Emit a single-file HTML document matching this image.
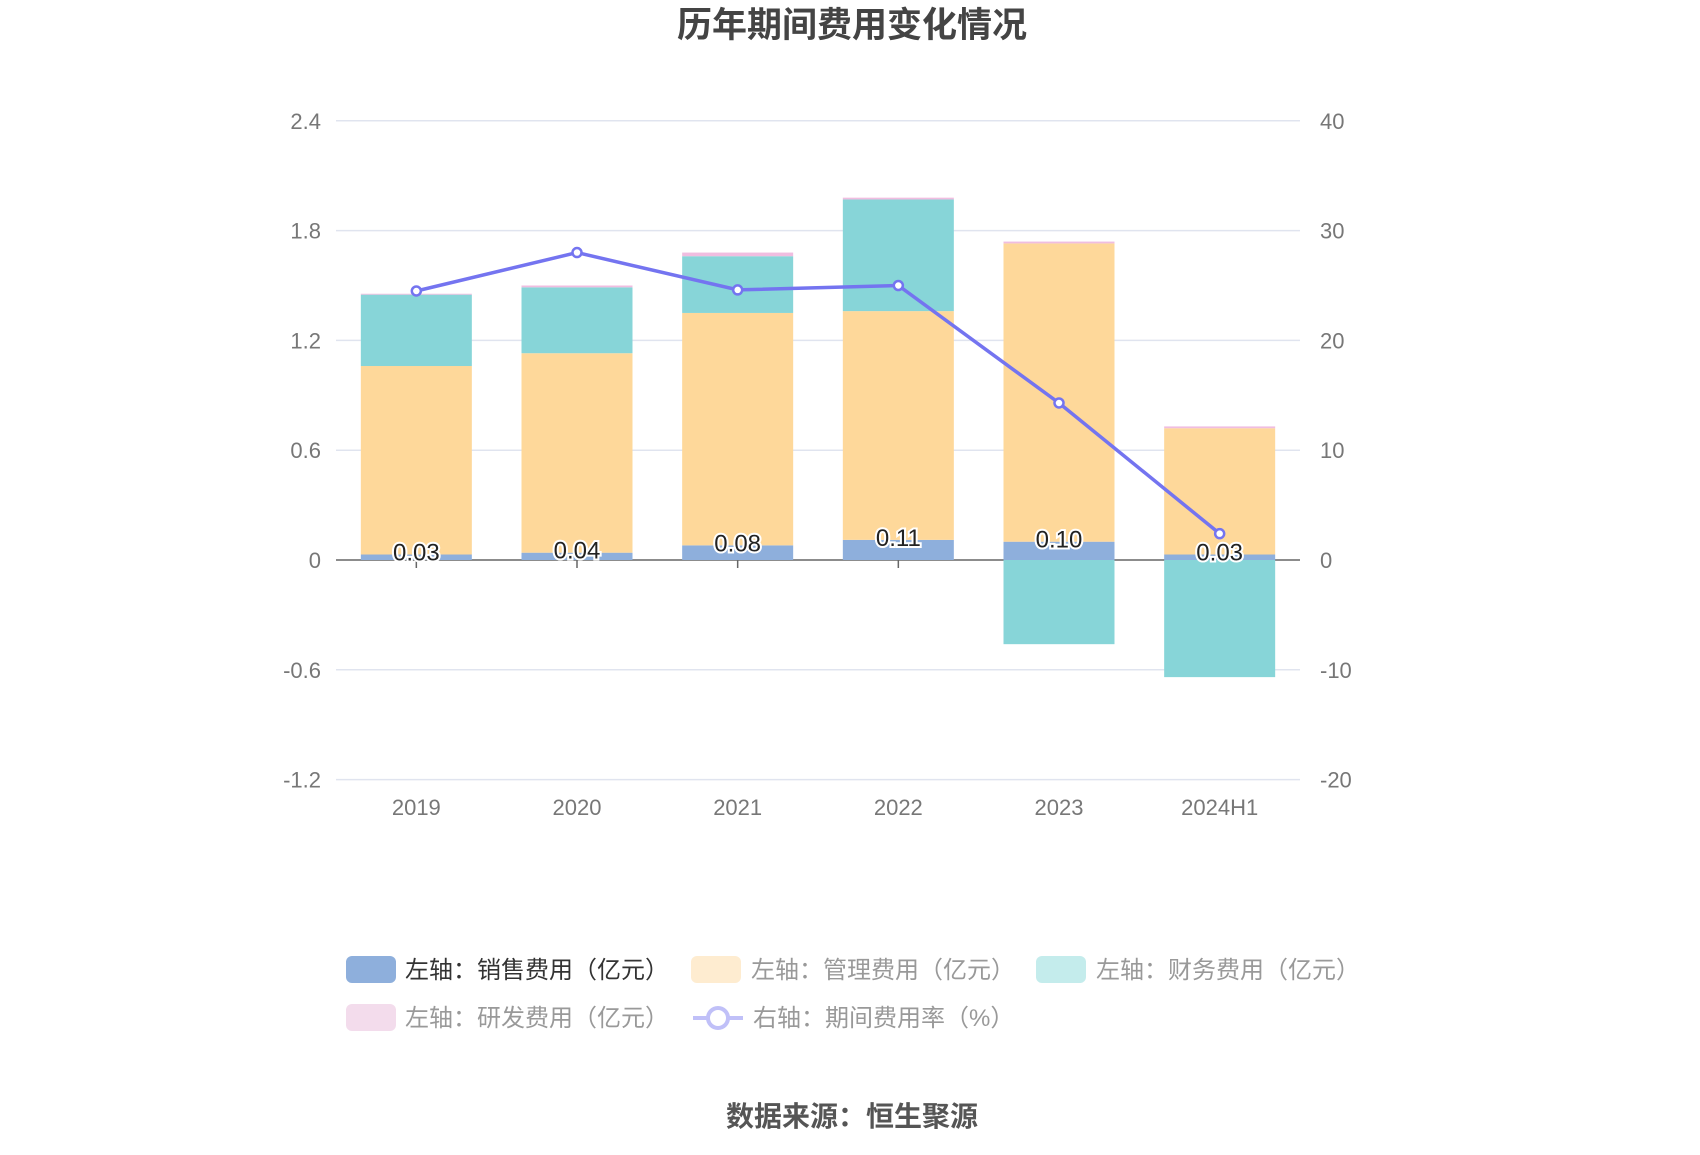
<!DOCTYPE html>
<html><head><meta charset="utf-8">
<style>
html,body{margin:0;padding:0;background:#fff;}
body{width:1700px;height:1150px;overflow:hidden;font-family:"Liberation Sans","Noto Sans CJK SC",sans-serif;}
svg text{font-family:"Liberation Sans","Noto Sans CJK SC",sans-serif;}
</style></head>
<body>
<svg id="chart" width="1700" height="1150">
<text x="852" y="37" text-anchor="middle" font-size="35" font-weight="bold" fill="#444">历年期间费用变化情况</text>
<g id="grid"></g><g id="bars"></g><g id="line"></g><g id="labels"></g>
<g id="legend" font-size="24">
 <g><rect x="346" y="956" width="50" height="27" rx="6" fill="#8eafdc"/><text x="405" y="978" fill="#333">左轴：销售费用（亿元）</text></g>
 <g><rect x="691" y="956" width="50" height="27" rx="6" fill="#feecd0"/><text x="751" y="978" fill="#999">左轴：管理费用（亿元）</text></g>
 <g><rect x="1036" y="956" width="50" height="27" rx="6" fill="#c4ecec"/><text x="1096" y="978" fill="#999">左轴：财务费用（亿元）</text></g>
 <g><rect x="346" y="1004" width="50" height="27" rx="6" fill="#f3dcec"/><text x="405" y="1026" fill="#999">左轴：研发费用（亿元）</text></g>
 <g><line x1="693" y1="1018" x2="743" y2="1018" stroke="#c0c0f8" stroke-width="4"/><circle cx="718" cy="1018" r="10" fill="#fff" stroke="#c0c0f8" stroke-width="4"/><text x="753" y="1026" fill="#999">右轴：期间费用率（%）</text></g>
</g>
<text x="852" y="1126" text-anchor="middle" font-size="28" font-weight="bold" fill="#555">数据来源：恒生聚源</text>
</svg>
<script>
const categories=["2019","2020","2021","2022","2023","2024H1"];
const sales=[0.03,0.04,0.08,0.11,0.10,0.03];
const admin=[1.03,1.09,1.27,1.25,1.63,0.69];
const finance=[0.39,0.36,0.31,0.61,-0.46,-0.64];
const rnd=[0.005,0.01,0.02,0.01,0.01,0.01];
const rate=[24.5,28.0,24.6,25.0,14.3,2.4];
const leftTicks=[2.4,1.8,1.2,0.6,0,-0.6,-1.2];
const rightTicks=[40,30,20,10,0,-10,-20];
const salesLabels=["0.03","0.04","0.08","0.11","0.10","0.03"];
const NS="http://www.w3.org/2000/svg";
const X0=336,X1=1300,Y0=560,STEP=109.8;
function yL(v){return Y0-v*(STEP/0.6);}
function yRate(v){return Y0-v*(STEP/10);}
const band=(X1-X0)/categories.length;
function xC(i){return X0+band*(i+0.5);}
function mk(tag,attrs,parent){const e=document.createElementNS(NS,tag);for(const k in attrs)e.setAttribute(k,attrs[k]);parent.appendChild(e);return e;}
const grid=document.getElementById('grid');
leftTicks.forEach((t,i)=>{
 const y=yL(t);
 const l=mk('line',{x1:X0,x2:X1,y1:y,y2:y,stroke:t===0?'#666':'#e0e4ef','stroke-width':1.5},grid);
 
 
 const a=mk('text',{x:321,y:y+8,'text-anchor':'end','font-size':22,fill:'#777'},grid);a.textContent=String(t);
 
 
 const b=mk('text',{x:1320,y:yRate(rightTicks[i])+8,'font-size':22,fill:'#777'},grid);b.textContent=String(rightTicks[i]);
 
 
});
categories.forEach((c,i)=>{
 const t=mk('text',{x:xC(i),y:815,'text-anchor':'middle','font-size':22,fill:'#777'},grid);t.textContent=c;
 
 
 const tk=mk('line',{x1:xC(i),x2:xC(i),y1:Y0,y2:Y0+8,stroke:'#666','stroke-width':1.5},grid);
 
 
});
const bars=document.getElementById('bars');const BW=111;
function seg(i,from,to,color,name){
 const y1=yL(Math.max(from,to)),y2=yL(Math.min(from,to));
 const r=mk('rect',{x:xC(i)-BW/2,y:y1,width:BW,height:Math.max(0,y2-y1),fill:color},bars);
 
 
}
categories.forEach((c,i)=>{
 let pos=0,neg=0;
 const series=[[sales,'#8eafdc','bar-sales'],[admin,'#fed89a','bar-admin'],[finance,'#87d5d8','bar-finance'],[rnd,'#f0bde0','bar-rnd']];
 series.forEach(([arr,col,nm])=>{
  const v=arr[i];
  if(v>=0){seg(i,pos,pos+v,col,nm);pos+=v;}else{seg(i,neg,neg+v,col,nm);neg+=v;}
 });
});
const line=document.getElementById('line');
const pts=rate.map((v,i)=>xC(i)+','+yRate(v)).join(' ');
const pl=mk('polyline',{points:pts,fill:'none',stroke:'#7474f0','stroke-width':3.5},line);


rate.forEach((v,i)=>{
 const c=mk('circle',{cx:xC(i),cy:yRate(v),r:4.5,fill:'#fff',stroke:'#7474f0','stroke-width':2.5},line);
 
 
});
const labels=document.getElementById('labels');
categories.forEach((c,i)=>{
 const t=mk('text',{x:xC(i),y:yL(sales[i])+6,'text-anchor':'middle','font-size':24,fill:'#222',stroke:'#fff','stroke-width':4,'paint-order':'stroke'},labels);
 t.textContent=salesLabels[i];
 
 
});
</script>
</body></html>
